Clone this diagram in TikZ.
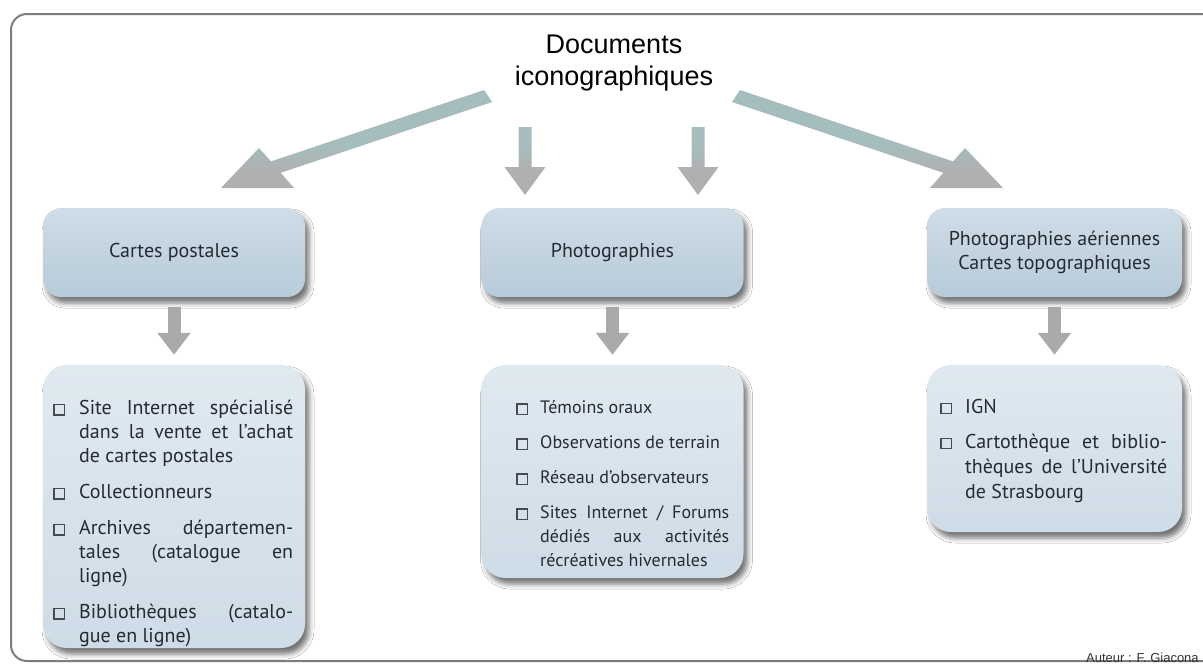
\documentclass[tikz,border=0pt]{standalone}
\usepackage{fontspec}
\setmainfont{PT Sans}
\newfontfamily\titlefont{Liberation Sans}
\usetikzlibrary{arrows.meta,shadows.blur}

\definecolor{arrteal}{RGB}{166,189,190}
\definecolor{arrgrey}{RGB}{176,176,176}
\definecolor{smallgrey}{RGB}{170,170,170}
\definecolor{hdtop}{RGB}{206,221,231}
\definecolor{hdbot}{RGB}{184,203,217}
\definecolor{lstop}{RGB}{224,233,240}
\definecolor{lsbot}{RGB}{206,220,231}
\definecolor{txt}{RGB}{38,42,50}
\definecolor{framec}{RGB}{125,125,125}

\pgfdeclareverticalshading{arrowshade}{100bp}{color(0bp)=(arrgrey); color(36bp)=(arrgrey); color(48bp)=(arrteal); color(100bp)=(arrteal)}

\newlength{\hang}
\newcommand{\sqbox}{\begingroup\fboxsep=0pt\fboxrule=1.4pt\color{txt!85}\fbox{\rule{0pt}{9pt}\hspace{9pt}}\endgroup}
\newcommand{\bitem}[1]{\par\hangindent=\hang\hangafter=1\noindent\makebox[\hang][l]{\raisebox{0.3pt}{\sqbox}}#1}
\newcommand{\listsetup}[3]{\fontsize{#1}{#2}\selectfont\parskip=#3\hyphenpenalty=10000\exhyphenpenalty=10000\tolerance=10000\hbadness=10000\color{txt}}

\tikzset{
  hdr/.style={rounded corners=18pt, minimum width=262pt, minimum height=89pt,
    top color=hdtop, bottom color=hdbot, draw=none,
    blur shadow={shadow xshift=4pt, shadow yshift=-6pt, shadow blur radius=5pt, shadow opacity=55},
    font=\fontsize{20}{24.5}\selectfont, text=txt, align=center, inner sep=0pt},
  lst/.style={rounded corners=24pt, minimum width=262pt,
    top color=lstop, bottom color=lsbot, draw=none,
    blur shadow={shadow xshift=4pt, shadow yshift=-6pt, shadow blur radius=5pt, shadow opacity=55},
    inner sep=0pt},
  lsttext/.style={anchor=base west, inner sep=0pt},
  smallarrow/.style={draw=smallgrey, line width=13pt, -{Triangle[width=32pt,length=22pt]}},
  ttl/.style={font=\titlefont\fontsize{27}{32}\selectfont, text=black, anchor=base, inner sep=0pt}
}

\begin{document}
\begin{tikzpicture}[x=1pt,y=-1pt]
\useasboundingbox (0,0) rectangle (1203,664);
\fill[white] (0,0) rectangle (1203,664);

% outer frame
\draw[framec, line width=2pt, rounded corners=16pt] (11,14) rectangle (1225,661);

% title
\node[ttl] (title1) at (614,53) {Documents};
\node[ttl] (title2) at (614,85) {iconographiques};

% big arrows (shaded)
\begin{scope}
\clip (484,90) -- (271,161.4) -- (259,148) -- (221,188) -- (294,188) -- (280.7,172.8) -- (492,102) -- cycle
      (740,90) -- (953,161.4) -- (965,148) -- (1003,188) -- (930,188) -- (943.3,172.8) -- (732,102) -- cycle
      (518.5,127) -- (531.5,127) -- (531.5,167) -- (545.5,167) -- (525,195) -- (504.5,167) -- (518.5,167) -- cycle
      (691.5,127) -- (704.5,127) -- (704.5,167) -- (718.5,167) -- (698,195) -- (677.5,167) -- (691.5,167) -- cycle;
\shade[shading=arrowshade] (200,85) rectangle (1010,196);
\end{scope}

% header boxes
\node[hdr] (h1) at (174,252.5) {Cartes postales};
\node[hdr] (h2) at (612.5,252.5) {Photographies};
\node[hdr, minimum width=255pt] (h3) at (1054.5,252.5) {Photographies aériennes\\Cartes topographiques};

% list boxes
\node[lst, minimum height=283pt] (l1) at (174,506.5) {};
\node[lst, minimum height=213pt] (l2) at (612.5,471.5) {};
\node[lst, minimum width=255pt, minimum height=167pt] (l3) at (1054.5,448.5) {};

% small arrows
\draw[smallarrow] ([yshift=-10pt]h1.south) -- ([yshift=10pt]l1.north);
\draw[smallarrow] ([yshift=-10pt]h2.south) -- ([yshift=10pt]l2.north);
\draw[smallarrow] ([yshift=-10pt]h3.south) -- ([yshift=10pt]l3.north);

% list texts
\node[lsttext] (t1) at (53,400) {\begin{minipage}[t]{240pt}\listsetup{20}{24}{12pt}\setlength{\hang}{26pt}%
\bitem{Site Internet spécialisé\linebreak dans la vente et l’achat\linebreak de cartes postales}
\bitem{Collectionneurs}
\bitem{Archives départemen-\linebreak tales (catalogue en\linebreak ligne)}
\bitem{Bibliothèques (catalo-\linebreak gue en ligne)}
\end{minipage}};

\node[lsttext] (t2) at (516,401) {\begin{minipage}[t]{213pt}\listsetup{18}{24}{11pt}\setlength{\hang}{24pt}%
\bitem{Témoins oraux}
\bitem{Observations de terrain}
\bitem{Réseau d’observateurs}
\bitem{Sites Internet / Forums\linebreak dédiés aux activités\linebreak récréatives hivernales}
\end{minipage}};

\node[lsttext] (t3) at (940,399) {\begin{minipage}[t]{227pt}\listsetup{20}{25}{10pt}\setlength{\hang}{25pt}%
\bitem{IGN}
\bitem{Cartothèque et biblio-\linebreak thèques de l’Université\linebreak de Strasbourg}
\end{minipage}};

% author
\node[font=\titlefont\fontsize{13}{15}\selectfont, anchor=base west, inner sep=0pt, text=black!80] (auth) at (1086,662) {Auteur : F. Giacona};
\end{tikzpicture}
\end{document}
